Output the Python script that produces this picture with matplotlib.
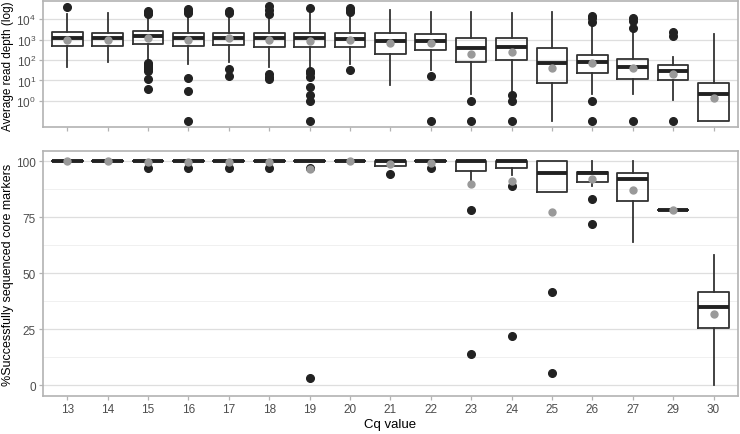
import matplotlib.pyplot as plt
import numpy as np

plt.rcParams['font.family'] = ['Liberation Sans', 'DejaVu Sans']

cq = ['13', '14', '15', '16', '17', '18', '19', '20', '21', '22', '23', '24', '25', '26', '27', '29', '30']

# top panel: average read depth (log)
depth_q1 = [480, 500, 590, 500, 540, 450, 420, 420, 200, 320, 78, 100, 7.7, 24, 12, 10, 0.1]
depth_med = [1180, 1180, 1450, 1180, 1180, 1180, 1180, 1050, 820, 820, 375, 420, 72, 78, 45, 29, 2.1]
depth_q3 = [2300, 2200, 2600, 2200, 2200, 2200, 2200, 2000, 2200, 1850, 1140, 1140, 375, 177, 113, 58, 7.7]
depth_lo = [48, 78, 93, 65, 78, 46, 46, 65, 5.7, 31, 2.3, 2.7, 0.1, 2.1, 2.1, 1.07, 0.1]
depth_hi = [17000, 19000, 15000, 17000, 17000, 14000, 27000, 16000, 27000, 23000, 23000, 19000, 21000, 4700, 2700, 136, 1850]
depth_mean = [980, 1000, 1180, 980, 1150, 980, 810, 980, 680, 680, 200, 260, 41, 70, 40, 21, 1.45]
depth_out = [
    [37000],
    [],
    [17000, 20000, 25000, 70, 55, 45, 35, 28, 12, 4],
    [20000, 26000, 30000, 13, 3, 0.1],
    [20000, 25000, 37, 16],
    [17000, 27000, 45000, 20, 15, 12],
    [36000, 30, 22, 15, 5, 1.9, 1.0, 0.1],
    [21000, 28000, 36000, 33],
    [],
    [17, 0.1],
    [1.0, 0.1],
    [1.9, 1.0, 0.1],
    [],
    [14000, 11000, 7000, 1.0, 0.1],
    [11000, 8000, 3500, 0.1],
    [2300, 1500, 0.1],
    [],
]

# bottom panel: % successfully sequenced core markers
pct_q1 = [100, 100, 100, 100, 100, 100, 100, 100, 97.8, 100, 95.5, 97, 86, 90.6, 82, 78, 25.4]
pct_med = [100, 100, 100, 100, 100, 100, 100, 100, 100, 100, 100, 100, 94.8, 94.6, 91.8, 78, 34.8]
pct_q3 = [100, 100, 100, 100, 100, 100, 100, 100, 100, 100, 100, 100, 100, 95.1, 94.6, 78, 41.8]
pct_lo = [100, 100, 100, 100, 100, 100, 100, 100, 97.8, 100, 91.3, 93.6, 86, 89.1, 63.8, 78, 0]
pct_hi = [100, 100, 100, 100, 100, 100, 100, 100, 100, 100, 100, 100, 100, 100, 100, 78, 58.2]
pct_mean = [100, 100, 99.7, 99.7, 99.7, 99.8, 96.5, 100, 98.5, 99.2, 89.9, 91.3, 77.5, 91.8, 86.9, 78, 31.8]
pct_out = [[], [], [97], [97], [97], [97], [97, 3], [], [94.3], [97], [78, 14], [89, 22], [41.5, 5.5],
           [83.2, 72], [], [], []]

edge = '#333333'
grid = '#dedede'
border = '#b3b3b3'
txt = '#4d4d4d'


def make_stats(q1, med, q3, lo, hi, out):
    return [dict(q1=a, med=b, q3=c, whislo=d, whishi=e, fliers=f)
            for a, b, c, d, e, f in zip(q1, med, q3, lo, hi, out)]


def draw(ax, stats, means):
    pos = np.arange(len(cq))
    ax.bxp(stats, positions=pos, widths=0.76, showfliers=True, showcaps=False,
           boxprops=dict(color=edge, linewidth=1.3),
           whiskerprops=dict(color=edge, linewidth=1.3),
           medianprops=dict(color='#222222', linewidth=2.8, solid_capstyle='butt'),
           flierprops=dict(marker='o', markerfacecolor='#222222', markeredgecolor='#222222',
                           markersize=5.5),
           zorder=3)
    ax.plot(pos, means, 'o', color='#999999', markersize=5, zorder=4)
    ax.set_xlim(-0.6, len(cq) - 0.4)
    for s in ax.spines.values():
        s.set_color(border)
        s.set_linewidth(1.2)
    ax.tick_params(colors=border, labelcolor=txt, labelsize=8.5, length=3, width=0.9, pad=2)
    ax.grid(axis='y', which='major', color=grid, linewidth=0.9, zorder=0)
    ax.set_axisbelow(True)


fig = plt.figure(figsize=(7.4, 4.35), dpi=100)
ax1 = fig.add_axes([0.058, 0.706, 0.939, 0.289])
ax2 = fig.add_axes([0.058, 0.087, 0.939, 0.564])

draw(ax1, make_stats(depth_q1, depth_med, depth_q3, depth_lo, depth_hi, depth_out), depth_mean)
ax1.set_yscale('log')
ax1.set_ylim(0.054, 75000)
ax1.set_yticks([1, 10, 100, 1000, 10000])
ax1.minorticks_off()
ax1.set_xticks(np.arange(len(cq)))
ax1.set_xticklabels([])
ax1.set_ylabel('Average read depth (log)', fontsize=8.5, color='black')
ax1.yaxis.set_label_coords(-0.041, 0.49)

draw(ax2, make_stats(pct_q1, pct_med, pct_q3, pct_lo, pct_hi, pct_out), pct_mean)
ax2.set_ylim(-4.9, 104.6)
ax2.set_yticks([0, 25, 50, 75, 100])
ax2.set_yticks([12.5, 37.5, 62.5, 87.5], minor=True)
ax2.tick_params(which='minor', length=0)
ax2.grid(axis='y', which='minor', color='#eeeeee', linewidth=0.6, zorder=0)
ax2.set_xticks(np.arange(len(cq)))
ax2.set_xticklabels(cq)
ax2.set_ylabel('%Successfully sequenced core markers', fontsize=9, color='black')
ax2.yaxis.set_label_coords(-0.041, 0.5)
ax2.set_xlabel('Cq value', fontsize=9.5, color='black', labelpad=2)

fig.savefig('out.png', dpi=100)
